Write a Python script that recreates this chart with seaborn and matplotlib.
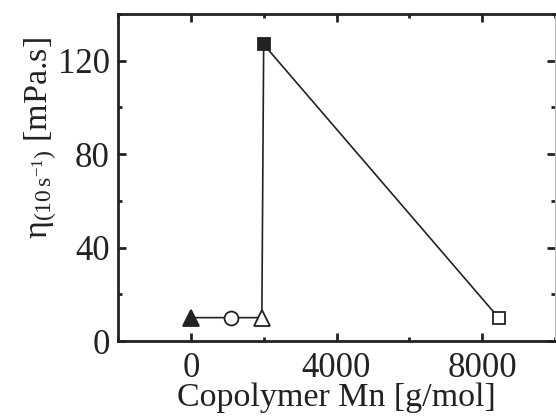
import matplotlib
matplotlib.use("Agg")
import matplotlib.pyplot as plt
import seaborn as sns
import pandas as pd
from matplotlib.ticker import MultipleLocator

mn = [0, 1100, 1950, 2000, 8450]
visc = [10, 10, 10, 127, 10]
markers = ["^", "o", "^", "s", "s"]
filled = [True, False, False, True, False]

sns.set_theme(style="ticks")
plt.rcParams['font.family'] = ['Liberation Serif', 'DejaVu Serif']
plt.rcParams['mathtext.fontset'] = 'custom'
plt.rcParams['mathtext.rm'] = 'Liberation Serif'
plt.rcParams['mathtext.it'] = 'Liberation Serif:italic'

fig = plt.figure(figsize=(5.56, 4.16), dpi=100)
ax = fig.add_axes([118/556, 1 - 341/416, (555-118)/556, (341-14)/416])

df = pd.DataFrame({"mn": mn, "visc": visc})
sns.lineplot(data=df, x="mn", y="visc", ax=ax, color="#222222", lw=1.2, sort=False)
sizes = {"^": 11, "o": 10, "s": 8.5}
for x, y, m, f in zip(mn, visc, markers, filled):
    ax.plot([x], [y], marker=m, ms=sizes[m], mfc="#222222" if f else "white",
            mec="#222222", mew=1.3, ls="none", zorder=5)

ax.set_xlim(-2000, 10000)
ax.set_ylim(0, 140)
ax.set_xticks([0, 4000, 8000])
ax.set_yticks([0, 40, 80, 120])
ax.xaxis.set_minor_locator(MultipleLocator(2000))
ax.yaxis.set_minor_locator(MultipleLocator(20))
ax.tick_params(which="both", direction="in", top=True, right=True, color="#222222",
               labelsize=25, labelcolor="#222222")
ax.tick_params(which="major", length=6, width=2)
ax.tick_params(which="minor", length=3, width=2)
ax.tick_params(axis="x", which="major", pad=8)
ax.tick_params(axis="y", which="major", pad=6)
for s in ax.spines.values():
    s.set_linewidth(2)
    s.set_color("#222222")
ax.spines["right"].set_linewidth(0.8)
ax.spines["right"].set_color("#bbbbbb")
ax.set_xlabel("Copolymer Mn [g/mol]", fontsize=24.5, color="#222222", labelpad=-2)
ax.set_ylabel(r"η$_{(10\,\mathrm{s}^{\mathrm{-1}})}$ [mPa.s]", fontsize=24.5,
              color="#222222")
ax.yaxis.set_label_coords(-0.135, 0.62)

fig.savefig("out.png", dpi=100)
